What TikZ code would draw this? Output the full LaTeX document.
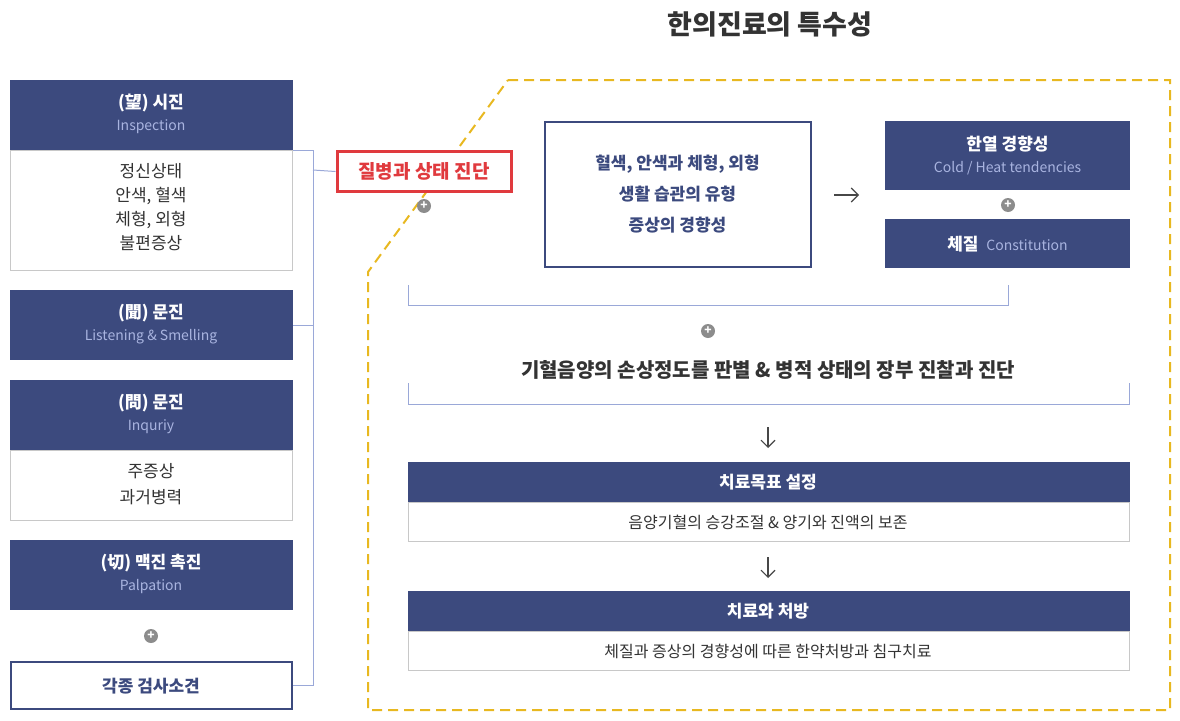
\documentclass[tikz,border=0pt]{standalone}
\usepackage{fontspec}
\setmainfont{Noto Sans CJK KR}
\newfontfamily\krbold{Noto Sans CJK KR Bold}
\usetikzlibrary{arrows.meta}
\definecolor{navy}{HTML}{3C4A7E}
\definecolor{sub}{HTML}{A9B4E0}
\definecolor{ylw}{HTML}{E8B820}
\definecolor{rd}{HTML}{E03A3E}
\definecolor{lb}{HTML}{9AA8D8}
\definecolor{gr}{HTML}{C8C8C8}
\definecolor{txt}{HTML}{333333}
\tikzset{
 hdr/.style={fill=navy,draw=none},
 wbox/.style={fill=white,draw=gr,line width=1},
 conn/.style={draw=lb,line width=1},
 plus/.style={circle,fill=gray!90,inner sep=0,minimum size=14,text=white,font=\fontsize{12}{12}\selectfont\bfseries},
 ht/.style={text=white,font=\fontsize{17}{17}\selectfont\bfseries},
 st/.style={text=sub,font=\fontsize{14}{14}\selectfont},
 bt/.style={text=txt,font=\fontsize{17}{17}\selectfont},
 arr/.style={draw=txt!90,line width=1.1,-{Straight Barb[length=7,width=14]}}
}
\begin{document}
\begin{tikzpicture}[x=1pt,y=-1pt]
\useasboundingbox (0,0) rectangle (1180,720);
\node[text=txt,font=\fontsize{27}{27}\selectfont\bfseries] (title) at (770,24) {한의진료의 특수성};
\draw[ylw,line width=2,dash pattern=on 10 off 6] (508,80) -- (1170,80) -- (1170,710) -- (368,710) -- (368,272) -- cycle;
% left column
\fill[hdr] (10,80) rectangle (293,150);
\draw[wbox] (10.5,150) rectangle (292.5,270);
\node[ht] (h1) at (151,103) {(望) 시진};
\node[st] (s1) at (151,127) {Inspection};
\node[bt,align=center,font=\fontsize{17}{24}\selectfont] (b1) at (151,207) {정신상태\\안색, 혈색\\체형, 외형\\불편증상};
\fill[hdr] (10,290) rectangle (293,360);
\node[ht] (h2) at (151,313) {(聞) 문진};
\node[st] (s2) at (151,337) {Listening \& Smelling};
\fill[hdr] (10,380) rectangle (293,450);
\draw[wbox] (10.5,450) rectangle (292.5,520);
\node[ht] (h3) at (151,403) {(問) 문진};
\node[st] (s3) at (151,427) {Inquriy};
\node[bt,align=center,font=\fontsize{17}{26}\selectfont] (b3) at (151,484) {주증상\\과거병력};
\fill[hdr] (10,540) rectangle (293,610);
\node[ht] (h4) at (151,563) {(切) 맥진 촉진};
\node[st] (s4) at (151,587) {Palpation};
\node[plus] (p0) at (151,636) {+};
\draw[navy,line width=2,fill=white] (11,662) rectangle (292,709);
\node[text=navy,font=\fontsize{17}{17}\selectfont\bfseries] (b5) at (151,686) {각종 검사소견};
% connectors
\coordinate (c1) at (313,150);
\coordinate (c2) at (313,325);
\coordinate (c3) at (313,685);
\coordinate (c0) at (313,170);
\draw[conn] (293,150) -- (c1) -- (c3) -- (293,685);
\draw[conn] (293,325) -- (c2);
% red box
\node[draw=rd,line width=3,fill=white,minimum width=174,minimum height=40,text=rd,font=\fontsize{19}{19}\selectfont\bfseries] (red) at (424,171.5) {질병과 상태 진단};
\draw[conn] (c0) -- (red.west);
\node[plus] (p1) at (424,206) {+};
% big box
\node[draw=navy,line width=2,minimum width=266,minimum height=145,text=navy,align=center,font=\fontsize{17}{31}\selectfont\bfseries] (big) at (677.5,194) {혈색, 안색과 체형, 외형\\생활 습관의 유형\\증상의 경향성};
\coordinate (a1) at (834,195);
\coordinate (a2) at (859,195);
\draw[arr] (a1) -- (a2);
\fill[hdr] (885,121) rectangle (1130,190);
\node[ht] (h6) at (1007.5,144) {한열 경향성};
\node[st] (s6) at (1007.5,168) {Cold / Heat tendencies};
\node[plus] (p2) at (1008,205) {+};
\fill[hdr] (885,219) rectangle (1130,268);
\node (h7) at (1007.5,244) {\fontsize{17}{17}\selectfont\bfseries\color{white}체질\ \ \fontsize{14}{14}\mdseries\color{sub}Constitution};
\draw[conn] (408,285) -- (408,305) -- (1008,305) -- (1008,285);
\node[plus] (p3) at (708,331) {+};
\node[text=txt,font=\fontsize{20}{20}\selectfont\bfseries] (mid) at (768,370) {기혈음양의 손상정도를 판별 \& 병적 상태의 장부 진찰과 진단};
\draw[conn] (408,383) -- (408,404) -- (1129,404) -- (1129,383);
\coordinate (d1) at (768,427);
\coordinate (d2) at (768,448);
\draw[arr] (d1) -- (d2);
\fill[hdr] (408,462) rectangle (1130,502);
\draw[wbox] (408.5,502) rectangle (1129.5,541);
\node[ht] (h8) at (768,482) {치료목표 설정};
\node[bt,font=\fontsize{16}{16}\selectfont] (b8) at (768,522) {음양기혈의 승강조절 \& 양기와 진액의 보존};
\coordinate (e1) at (768,557);
\coordinate (e2) at (768,578);
\draw[arr] (e1) -- (e2);
\fill[hdr] (408,591) rectangle (1130,631);
\draw[wbox] (408.5,631) rectangle (1129.5,670);
\node[ht] (h9) at (768,611) {치료와 처방};
\node[bt,font=\fontsize{16}{16}\selectfont] (b9) at (768,651) {체질과 증상의 경향성에 따른 한약처방과 침구치료};
\end{tikzpicture}
\end{document}
